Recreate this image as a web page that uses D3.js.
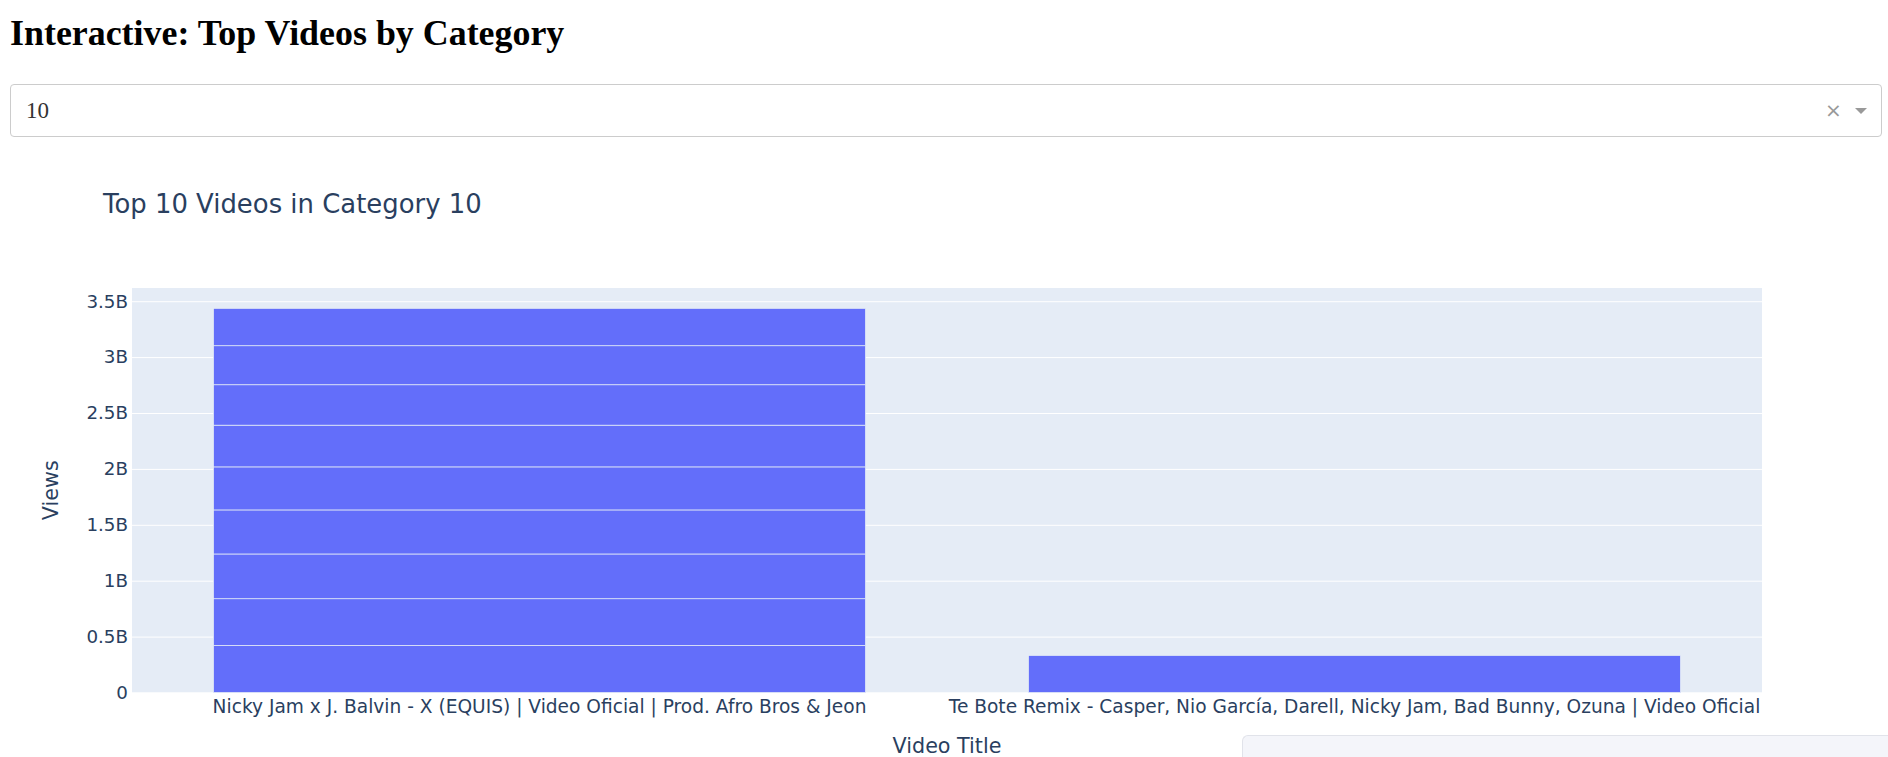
<!DOCTYPE html>
<html>
<head>
<meta charset="utf-8">
<script src="https://cdn.jsdelivr.net/npm/d3@7"></script>
<style>
    body { margin: 0; background: #fff; width: 1888px; height: 757px; position: relative; }
    h1 { position: absolute; left: 10px; top: 12px; margin: 0; font-family: "Liberation Serif", serif; font-size: 35.9px; font-weight: bold; color: #000; }
    .dropdown { position: absolute; left: 10px; top: 84px; width: 1870px; height: 51px; border: 1px solid #ccc; border-radius: 4px; box-sizing: content-box; }
    .dropdown .value { position: absolute; left: 15px; top: 0; line-height: 51px; font-family: "Liberation Serif", serif; font-size: 23px; color: #333; }
    .dropdown .clear { position: absolute; left: 1814px; top: 0; line-height: 51px; font-family: "DejaVu Sans", sans-serif; font-size: 20px; color: #999; }
    .dropdown .arrow { position: absolute; left: 1844px; top: 23px; width: 0; height: 0; border-left: 6px solid transparent; border-right: 6px solid transparent; border-top: 6px solid #999; }
    .panel { position: absolute; left: 1242px; top: 735px; width: 645px; height: 21px; background: #f4f5fa; border: 1px solid #e1e3ea; border-bottom: none; border-right: none; border-top-left-radius: 6px; }
    svg { position: absolute; left: 0; top: 0; }
    .tick text { font-family: "DejaVu Sans", sans-serif; fill: #2a3f5f; }
</style>
</head>
<body>
<h1>Interactive: Top Videos by Category</h1>
<div class="dropdown"><span class="value">10</span><span class="clear">×</span><span class="arrow"></span></div>
<svg width="1888" height="757"></svg>
<div class="panel"></div>
<script>
// top 10 rows for category 10, in ranking order (same title repeats on several days)
const titles = [
    'Nicky Jam x J. Balvin - X (EQUIS) | Video Oficial | Prod. Afro Bros & Jeon',
    'Nicky Jam x J. Balvin - X (EQUIS) | Video Oficial | Prod. Afro Bros & Jeon',
    'Nicky Jam x J. Balvin - X (EQUIS) | Video Oficial | Prod. Afro Bros & Jeon',
    'Nicky Jam x J. Balvin - X (EQUIS) | Video Oficial | Prod. Afro Bros & Jeon',
    'Nicky Jam x J. Balvin - X (EQUIS) | Video Oficial | Prod. Afro Bros & Jeon',
    'Nicky Jam x J. Balvin - X (EQUIS) | Video Oficial | Prod. Afro Bros & Jeon',
    'Nicky Jam x J. Balvin - X (EQUIS) | Video Oficial | Prod. Afro Bros & Jeon',
    'Nicky Jam x J. Balvin - X (EQUIS) | Video Oficial | Prod. Afro Bros & Jeon',
    'Nicky Jam x J. Balvin - X (EQUIS) | Video Oficial | Prod. Afro Bros & Jeon',
    'Te Bote Remix - Casper, Nio García, Darell, Nicky Jam, Bad Bunny, Ozuna | Video Oficial'
];
const views = [421e6, 418e6, 400e6, 394e6, 385e6, 373e6, 362e6, 349e6, 334e6, 331e6];
const yTickValues = [0, 0.5e9, 1e9, 1.5e9, 2e9, 2.5e9, 3e9, 3.5e9];

const svg = d3.select('svg');
const margin = { top: 288, right: 126, bottom: 64.5, left: 132 };
const width = +svg.attr('width');
const height = +svg.attr('height');
const innerWidth = width - margin.left - margin.right;
const innerHeight = height - margin.top - margin.bottom;

// stack repeated titles like plotly does
const data = titles.map((t, i) => ({ title: t, value: views[i] }));
const categories = Array.from(new Set(titles));
const running = {};
data.forEach(d => {
    d.y0 = running[d.title] || 0;
    d.y1 = d.y0 + d.value;
    running[d.title] = d.y1;
});
const yMax = d3.max(Object.values(running)) * 1.053;

const xScale = d3.scaleBand()
    .domain(categories)
    .range([0, innerWidth])
    .paddingInner(0.2)
    .paddingOuter(0.1);

const yScale = d3.scaleLinear()
    .domain([0, yMax])
    .range([innerHeight, 0]);

const g = svg.append('g')
    .attr('transform', `translate(${margin.left},${margin.top})`);

g.append('rect')
    .attr('width', innerWidth)
    .attr('height', innerHeight)
    .attr('fill', '#e5ecf6');

const yAxis = d3.axisLeft(yScale)
    .tickValues(yTickValues)
    .tickFormat(v => v === 0 ? '0' : (v / 1e9) + 'B')
    .tickSize(-innerWidth)
    .tickPadding(4);

const yAxisG = g.append('g').call(yAxis);
yAxisG.select('.domain').remove();
yAxisG.selectAll('line').attr('stroke', '#fff').attr('stroke-width', 1);
yAxisG.selectAll('text').style('font-size', '18.3px');

g.selectAll('rect.bar').data(data)
    .enter().append('rect')
        .attr('class', 'bar')
        .attr('x', d => xScale(d.title))
        .attr('width', xScale.bandwidth())
        .attr('y', d => yScale(d.y1))
        .attr('height', d => yScale(d.y0) - yScale(d.y1))
        .attr('fill', '#636efa')
        .attr('stroke', '#e5ecf6')
        .attr('stroke-width', 0.75);

const xAxis = d3.axisBottom(xScale)
    .tickSize(0)
    .tickPadding(7.5);

const xAxisG = g.append('g')
    .attr('transform', `translate(0,${innerHeight})`)
    .call(xAxis);
xAxisG.select('.domain').remove();
xAxisG.selectAll('text').style('font-size', '18.6px');

xAxisG.append('text')
    .attr('x', innerWidth / 2)
    .attr('y', 60.8)
    .attr('fill', '#2a3f5f')
    .attr('text-anchor', 'middle')
    .style('font-family', '"DejaVu Sans", sans-serif')
    .style('font-size', '20.7px')
    .text('Video Title');

g.append('text')
    .attr('transform', `translate(${51 - margin.left + 7},${innerHeight / 2}) rotate(-90)`)
    .attr('fill', '#2a3f5f')
    .attr('text-anchor', 'middle')
    .style('font-family', '"DejaVu Sans", sans-serif')
    .style('font-size', '20.7px')
    .text('Views');

svg.append('text')
    .attr('x', 103)
    .attr('y', 213)
    .attr('fill', '#2a3f5f')
    .style('font-family', '"DejaVu Sans", sans-serif')
    .style('font-size', '25.9px')
    .text('Top 10 Videos in Category 10');
</script>
</body>
</html>
